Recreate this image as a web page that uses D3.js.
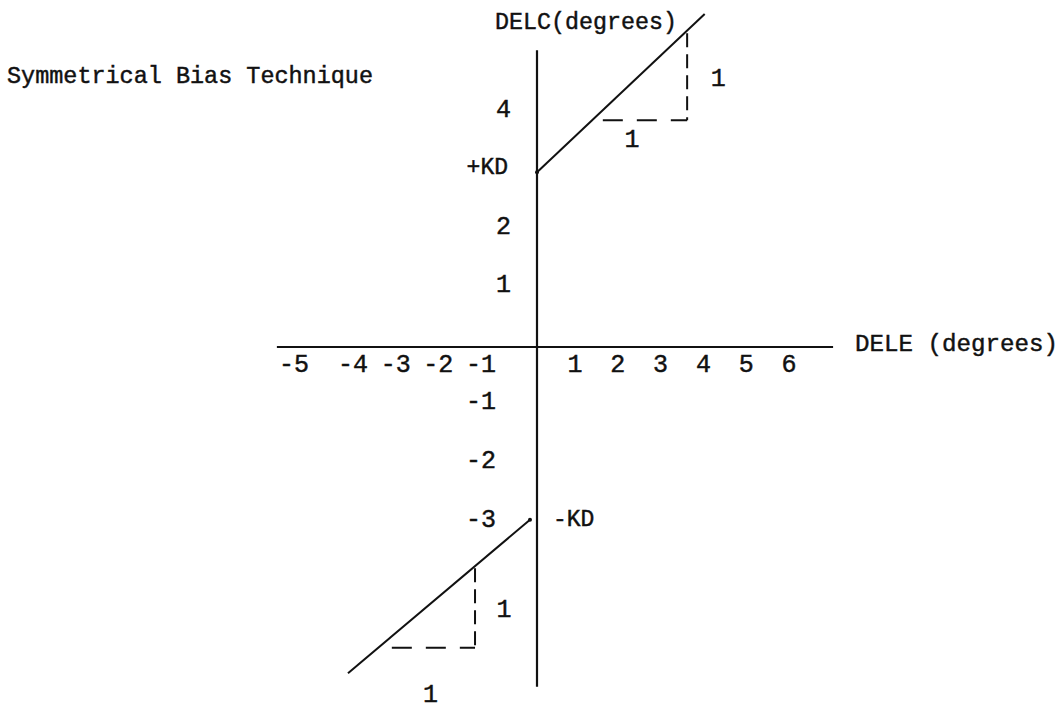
<!DOCTYPE html>
<html>
<head>
<meta charset="utf-8">
<script src="https://cdn.jsdelivr.net/npm/d3@7"></script>
<style>
  body { margin: 0; background: #fff; }
  svg text { font-family: "Liberation Mono", "Courier New", monospace; fill: #111; stroke: #111; stroke-width: 0.45px; }
</style>
</head>
<body>
<svg id="chart" width="1062" height="710"></svg>
<script>
// values
var xTicks = [-5, -4, -3, -2, -1, 1, 2, 3, 4, 5, 6];
var yTicks = [4, 2, 1, -1, -2, -3];
var kdLabels = [["+KD", 3], ["-KD", -3]];
var xAxisSpan = [-5.29, 7.03];
var yAxisSpan = [-5.86, 4.99];
var upperBranch = [[0, 2.9], [4.03, 5.61]];
var lowerBranch = [[-4.085, -5.63], [-0.125, -3.03]];
var upperStep = [[1.65, 3.79], [3.62, 3.79], [3.62, 5.28]];
var lowerStep = [[-3.09, -5.2], [-1.14, -5.2], [-1.14, -3.85]];

var svg = d3.select("#chart");

// the typewriter spacing is not even, so the scales are piecewise
var x = d3.scaleLinear()
	.domain([-5, -4, -1, 0, 1, 6])
	.range([294, 353, 481, 537, 575, 789]);
var y = d3.scaleLinear()
	.domain([-3, -1, 0, 1, 4])
	.range([518, 400, 347, 283, 108]);

var line = d3.line()
	.x(function(d){ return x(d[0]); })
	.y(function(d){ return y(d[1]); });

// axes
svg.append("path")
	.attr("d", line([[xAxisSpan[0], 0], [xAxisSpan[1], 0]]))
	.attr("stroke", "#111").attr("stroke-width", 2).attr("fill", "none");
svg.append("path")
	.attr("d", line([[0, yAxisSpan[0]], [0, yAxisSpan[1]]]))
	.attr("stroke", "#111").attr("stroke-width", 2.2).attr("fill", "none");

// x tick labels
svg.selectAll(".xlab").data(xTicks).enter().append("text")
	.attr("class", "xlab")
	.attr("x", function(d){ return x(d); })
	.attr("y", y(0) + 25)
	.attr("text-anchor", "middle")
	.style("font-size", "25px")
	.text(function(d){ return d; });

// y tick labels (negatives typed one column further left)
svg.selectAll(".ylab").data(yTicks).enter().append("text")
	.attr("class", "ylab")
	.attr("x", function(d){ return d > 0 ? x(0) - 26 : x(0) - 41; })
	.attr("y", function(d){ return y(d) + 9; })
	.attr("text-anchor", "end")
	.style("font-size", "25px")
	.text(function(d){ return d; });

// KD labels
svg.selectAll(".kd").data(kdLabels).enter().append("text")
	.attr("class", "kd")
	.attr("x", function(d){ return d[1] > 0 ? x(0) - 29 : x(0) + 16; })
	.attr("y", function(d){ return y(d[1]) + 8; })
	.attr("text-anchor", function(d){ return d[1] > 0 ? "end" : "start"; })
	.style("font-size", "23px")
	.text(function(d){ return d[0]; });

// the two branches
[upperBranch, lowerBranch].forEach(function(b){
	svg.append("path")
		.attr("d", line(b))
		.attr("stroke", "#111").attr("stroke-width", 2).attr("fill", "none");
});
svg.append("circle").attr("cx", x(upperBranch[0][0])).attr("cy", y(upperBranch[0][1])).attr("r", 2).attr("fill", "#111");
svg.append("circle").attr("cx", x(lowerBranch[1][0])).attr("cy", y(lowerBranch[1][1])).attr("r", 2).attr("fill", "#111");

// dashed unit steps
function drawStep(s, runOff, riseOff){
	svg.append("path")
		.attr("d", line([s[0], s[1]]))
		.attr("stroke", "#111").attr("stroke-width", 2).attr("fill", "none")
		.attr("stroke-dasharray", "20,14");
	svg.append("path")
		.attr("d", line([s[2], s[1]]))
		.attr("stroke", "#111").attr("stroke-width", 2).attr("fill", "none")
		.attr("stroke-dasharray", "14,7");
	var mx = (x(s[0][0]) + x(s[1][0])) / 2;
	svg.append("text")
		.attr("x", mx + runOff[0]).attr("y", y(s[0][1]) + runOff[1])
		.attr("text-anchor", "middle")
		.style("font-size", "25px")
		.text("1");
	var my = (y(s[1][1]) + y(s[2][1])) / 2;
	svg.append("text")
		.attr("x", x(s[1][0]) + riseOff).attr("y", my + 9)
		.attr("text-anchor", "middle")
		.style("font-size", "25px")
		.text("1");
}
drawStep(upperStep, [-13, 27], 31);
drawStep(lowerStep, [-3, 54], 29);

// titles
svg.append("text")
	.attr("x", 7).attr("y", 83)
	.attr("textLength", 366).attr("lengthAdjust", "spacingAndGlyphs")
	.style("font-size", "23.5px")
	.text("Symmetrical Bias Technique");
svg.append("text")
	.attr("x", 495).attr("y", 29)
	.attr("textLength", 182).attr("lengthAdjust", "spacingAndGlyphs")
	.style("font-size", "24px")
	.text("DELC(degrees)");
svg.append("text")
	.attr("x", 855).attr("y", 351)
	.attr("textLength", 203).attr("lengthAdjust", "spacingAndGlyphs")
	.style("font-size", "24.5px")
	.text("DELE (degrees)");
</script>
</body>
</html>
